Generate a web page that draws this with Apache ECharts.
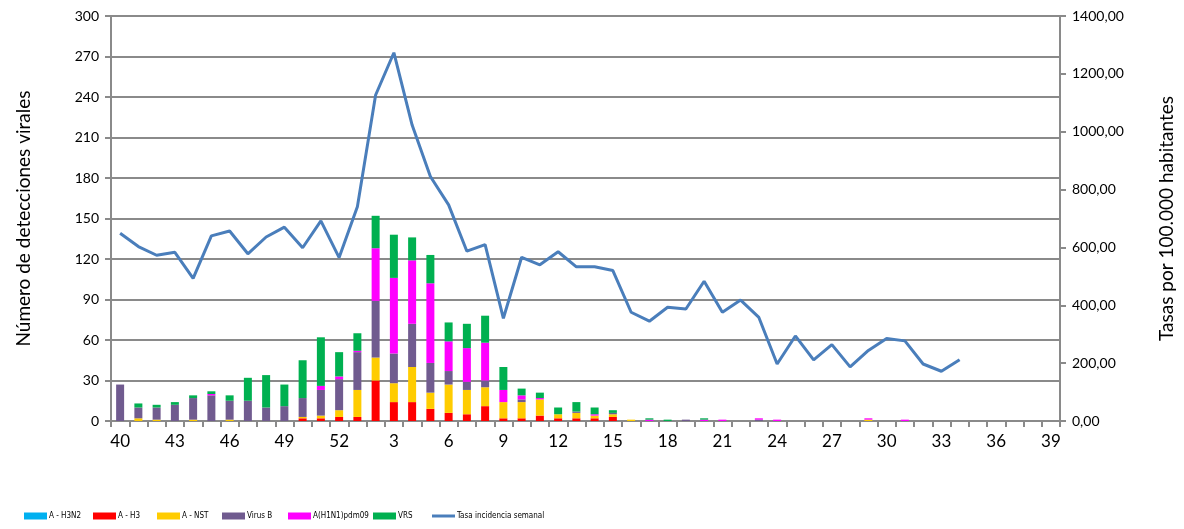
<!DOCTYPE html>
<html>
<head>
<meta charset="utf-8">
<style>
  html, body { margin: 0; padding: 0; background: #fff; }
  #container { width: 1184px; height: 529px; }
</style>
<script src="https://cdn.jsdelivr.net/npm/echarts@6/dist/echarts.min.js"></script>
</head>
<body>
<div id="container"></div>
<script>
// weeks 40..52, then 1..39
var weeks = [];
for (var w = 40; w <= 52; w++) weeks.push(String(w));
for (var w2 = 1; w2 <= 39; w2++) weeks.push(String(w2));

var seriesNames = ['A - H3N2', 'A - H3', 'A - NST', 'Virus B', 'A(H1N1)pdm09', 'VRS'];
var lineName = 'Tasa incidencia semanal';

//            40 41 42 43 44 45 46 47 48 49 50 51 52  1  2  3  4  5  6  7  8  9 10 11 12 13 14 15 16 17 18 19 20 21 22 23 24 25 26 27 28 29 30 31 32 33 34 35 36 37 38 39
var aH3N2  = [ 0, 0, 0, 0, 0, 0, 0, 0, 0, 0, 0, 0, 0, 0, 0, 0, 0, 0, 0, 0, 0, 0, 0, 0, 0, 0, 0, 0, 0, 0, 0, 0, 0, 0, 0, 0, 0, 0, 0, 0, 0, 0, 0, 0, 0, 0, 0, 0, 0, 0, 0, 0];
var aH3    = [ 0, 0, 0, 0, 0, 0, 0, 0, 0, 0, 2, 2, 3, 3,30,14,14, 9, 6, 5,11, 2, 2, 4, 2, 2, 2, 3, 0, 0, 0, 0, 0, 0, 0, 0, 0, 0, 0, 0, 0, 0, 0, 0, 0, 0, 0, 0, 0, 0, 0, 0];
var aNST   = [ 0, 2, 1, 0, 1, 0, 1, 0, 0, 0, 1, 2, 5,20,17,14,26,12,21,18,14,12,12,12, 3, 4, 2, 2, 1, 0, 0, 0, 0, 0, 0, 0, 0, 0, 0, 0, 0, 1, 0, 0, 0, 0, 0, 0, 0, 0, 0, 0];
var virusB = [27, 8, 9,12,16,19,14,15,10,11,14,19,23,28,42,22,32,22,10, 6, 5, 0, 2, 0, 0, 1, 0, 1, 0, 0, 0, 1, 0, 0, 0, 1, 0, 0, 0, 0, 0, 0, 0, 0, 0, 0, 0, 0, 0, 0, 0, 0];
var h1n1   = [ 0, 0, 0, 0, 0, 1, 0, 0, 0, 0, 0, 3, 2, 1,39,56,47,59,22,25,28, 9, 3, 1, 0, 0, 1, 0, 0, 1, 0, 0, 1, 1, 0, 1, 1, 0, 0, 0, 0, 1, 0, 1, 0, 0, 0, 0, 0, 0, 0, 0];
var vrs    = [ 0, 3, 2, 2, 2, 2, 4,17,24,16,28,36,18,13,24,32,17,21,14,18,20,17, 5, 4, 5, 7, 5, 2, 0, 1, 1, 0, 1, 0, 0, 0, 0, 0, 0, 0, 0, 0, 0, 0, 0, 0, 0, 0, 0, 0, 0, 0];

var tasa = [649, 603, 573, 583, 493, 640, 657, 578, 636, 670, 599, 692, 565,
            741, 1127, 1273, 1023, 845, 747, 587, 610, 355, 566, 540, 585, 533, 533, 520,
            376, 345, 393, 387, 483, 376, 418, 358, 197, 294, 211, 264, 187, 244, 285, 277,
            197, 172, 212, null, null, null, null, null];

var colors = ['#00b0f0', '#ff0000', '#ffcc00', '#705b8f', '#ff00ff', '#00b050'];
var lineColor = '#4a7ebb';
var barData = [aH3N2, aH3, aNST, virusB, h1n1, vrs];

var dom = document.getElementById('container');
var myChart = echarts.init(dom, null, { renderer: 'canvas' });

var gridColor = '#8a8a8a';
var font = 'Lato, "Open Sans", sans-serif';

var series = seriesNames.map(function (name, i) {
    return {
        name: name,
        type: 'bar',
        stack: 'virus',
        barWidth: 8,
        itemStyle: { color: colors[i] },
        data: barData[i]
    };
});
series.push({
    name: lineName,
    type: 'line',
    yAxisIndex: 1,
    symbol: 'none',
    lineStyle: { color: lineColor, width: 3 },
    itemStyle: { color: lineColor },
    data: tasa
});

// one legend per item so the bottom row keeps its spacing
var legendLeft = [24, 93, 157, 222, 288, 373, 432];
var legendNames = seriesNames.concat([lineName]);
var legends = legendNames.map(function (name, i) {
    var isLine = i === 6;
    return {
        data: [{ name: name, icon: 'rect' }],
        left: legendLeft[i],
        top: 512,
        itemWidth: 23,
        itemHeight: isLine ? 3 : 7,
        itemGap: 2,
        padding: 0,
        selectedMode: false,
        textStyle: { fontSize: 8, color: '#000', fontFamily: '"DejaVu Sans Condensed", "Liberation Sans Narrow", sans-serif', padding: [0, 0, 0, -3] }
    };
});

var option = {
    animation: false,
    color: colors.concat([lineColor]),
    legend: legends,
    grid: { left: 111, right: 124, top: 16, bottom: 108 },
    xAxis: {
        type: 'category',
        data: weeks,
        boundaryGap: true,
        axisLine: { lineStyle: { color: gridColor, width: 2 } },
        axisTick: { show: true, interval: 0, length: 6, lineStyle: { color: gridColor, width: 2 } },
        axisLabel: { interval: 2, fontSize: 17, color: '#000', fontFamily: font, margin: 12 }
    },
    yAxis: [
        {
            type: 'value',
            min: 0, max: 300, interval: 30,
            name: 'Número de detecciones virales',
            nameLocation: 'middle',
            nameGap: 78,
            nameTextStyle: { fontSize: 19, color: '#000', fontFamily: font },
            axisLine: { show: true, lineStyle: { color: gridColor, width: 2 } },
            axisTick: { show: true, length: 6, lineStyle: { color: gridColor, width: 2 } },
            splitLine: { lineStyle: { color: gridColor, width: 2 } },
            axisLabel: { fontSize: 14, color: '#000', fontFamily: font, margin: 12 }
        },
        {
            type: 'value',
            min: 0, max: 1400, interval: 200,
            name: 'Tasas por 100.000 habitantes',
            nameLocation: 'middle',
            nameGap: 97,
            nameRotate: 90,
            nameTextStyle: { fontSize: 19, color: '#000', fontFamily: font },
            axisLine: { show: true, lineStyle: { color: gridColor, width: 2 } },
            axisTick: { show: true, length: 6, lineStyle: { color: gridColor, width: 2 } },
            splitLine: { show: false },
            axisLabel: {
                fontSize: 14, color: '#000', fontFamily: font, margin: 12,
                formatter: function (v) { return v.toFixed(2).replace('.', ','); }
            }
        }
    ],
    series: series
};

myChart.setOption(option);
window.addEventListener('resize', myChart.resize);
</script>
</body>
</html>
